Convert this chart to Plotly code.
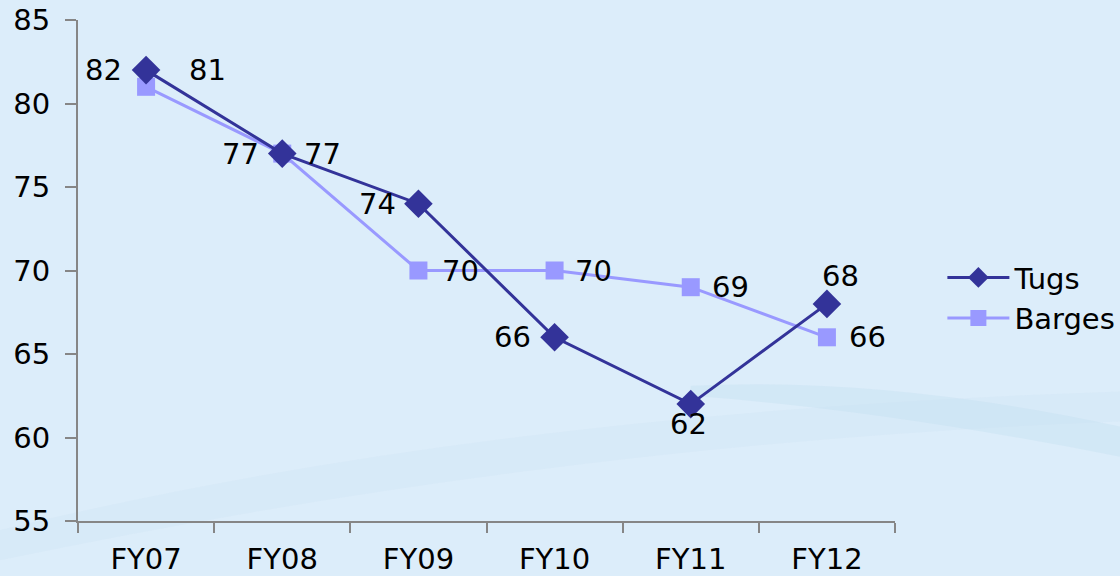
import plotly.graph_objects as go

categories = ["FY07", "FY08", "FY09", "FY10", "FY11", "FY12"]
tugs = [82, 77, 74, 66, 62, 68]
barges = [81, 77, 70, 70, 69, 66]
y_ticks = [55, 60, 65, 70, 75, 80, 85]

# label offsets (pixels) per point
tugs_shift = [(-43, 0), (-42, 0), (-41, 0), (-42, 0), (-2, -20), (14, 28)]
barges_shift = [(61, 17), (40, 0), (42, 0), (39, 0), (40, 0), (41, 0)]

TUGS_C = "#333399"
BARGES_C = "#9999FF"
FONT = "DejaVu Sans"
FS = 29

fig = go.Figure()
fig.add_trace(go.Scatter(
    x=categories, y=barges, name="Barges", mode="lines+markers",
    line=dict(color=BARGES_C, width=3),
    marker=dict(symbol="square", size=18, color=BARGES_C),
))
fig.add_trace(go.Scatter(
    x=categories, y=tugs, name="Tugs", mode="lines+markers",
    line=dict(color=TUGS_C, width=3),
    marker=dict(symbol="diamond", size=22, color=TUGS_C),
))

for c, v, (dx, dy) in zip(categories, tugs, tugs_shift):
    fig.add_annotation(x=c, y=v, text=str(v), showarrow=False,
                       xshift=dx, yshift=dy, font=dict(size=FS, color="black", family=FONT))
for c, v, (dx, dy) in zip(categories, barges, barges_shift):
    fig.add_annotation(x=c, y=v, text=str(v), showarrow=False,
                       xshift=dx, yshift=dy, font=dict(size=FS, color="black", family=FONT))

# faint background swooshes
fig.add_shape(type="path", xref="paper", yref="paper", layer="below",
              path="M -0.1 -0.02 Q 0.5 0.22 1.3 0.26 L 1.3 0.2 Q 0.6 0.16 -0.1 -0.08 Z",
              fillcolor="rgba(200,222,242,0.22)", line_width=0)
fig.add_shape(type="path", xref="paper", yref="paper", layer="below",
              path="M 0.75 0.27 Q 1.0 0.29 1.3 0.18 L 1.3 0.12 Q 1.0 0.22 0.75 0.25 Z",
              fillcolor="rgba(185,218,238,0.28)", line_width=0)

fig.update_layout(
    width=1120, height=576,
    margin=dict(l=78, r=225, t=20, b=55, autoexpand=False),
    paper_bgcolor="#DCEDFA",
    plot_bgcolor="rgba(0,0,0,0)",
    font=dict(family=FONT, size=FS, color="black"),
    showlegend=True,
    legend=dict(x=1.058, y=0.445, xanchor="left", yanchor="middle",
                traceorder="reversed", bgcolor="rgba(0,0,0,0)",
                font=dict(size=FS, family=FONT), itemwidth=62, tracegroupgap=0),
    xaxis=dict(
        type="category", categoryorder="array", categoryarray=categories,
        range=[-0.5, 5.5], showgrid=False, zeroline=False, automargin=False,
        showline=True, linecolor="#868686", linewidth=2,
        ticks="outside", tickson="boundaries", ticklen=10, tickwidth=2, tickcolor="#868686",
        ticklabelstandoff=11,
        tickfont=dict(size=FS, family=FONT),
    ),
    yaxis=dict(
        range=[55, 85], tickvals=y_ticks, showgrid=False, zeroline=False, automargin=False,
        showline=True, linecolor="#868686", linewidth=2,
        ticks="outside", ticklen=11, tickwidth=2, tickcolor="#868686",
        ticklabelstandoff=9,
        tickfont=dict(size=FS, family=FONT),
    ),
)

fig.write_html("out.html")
